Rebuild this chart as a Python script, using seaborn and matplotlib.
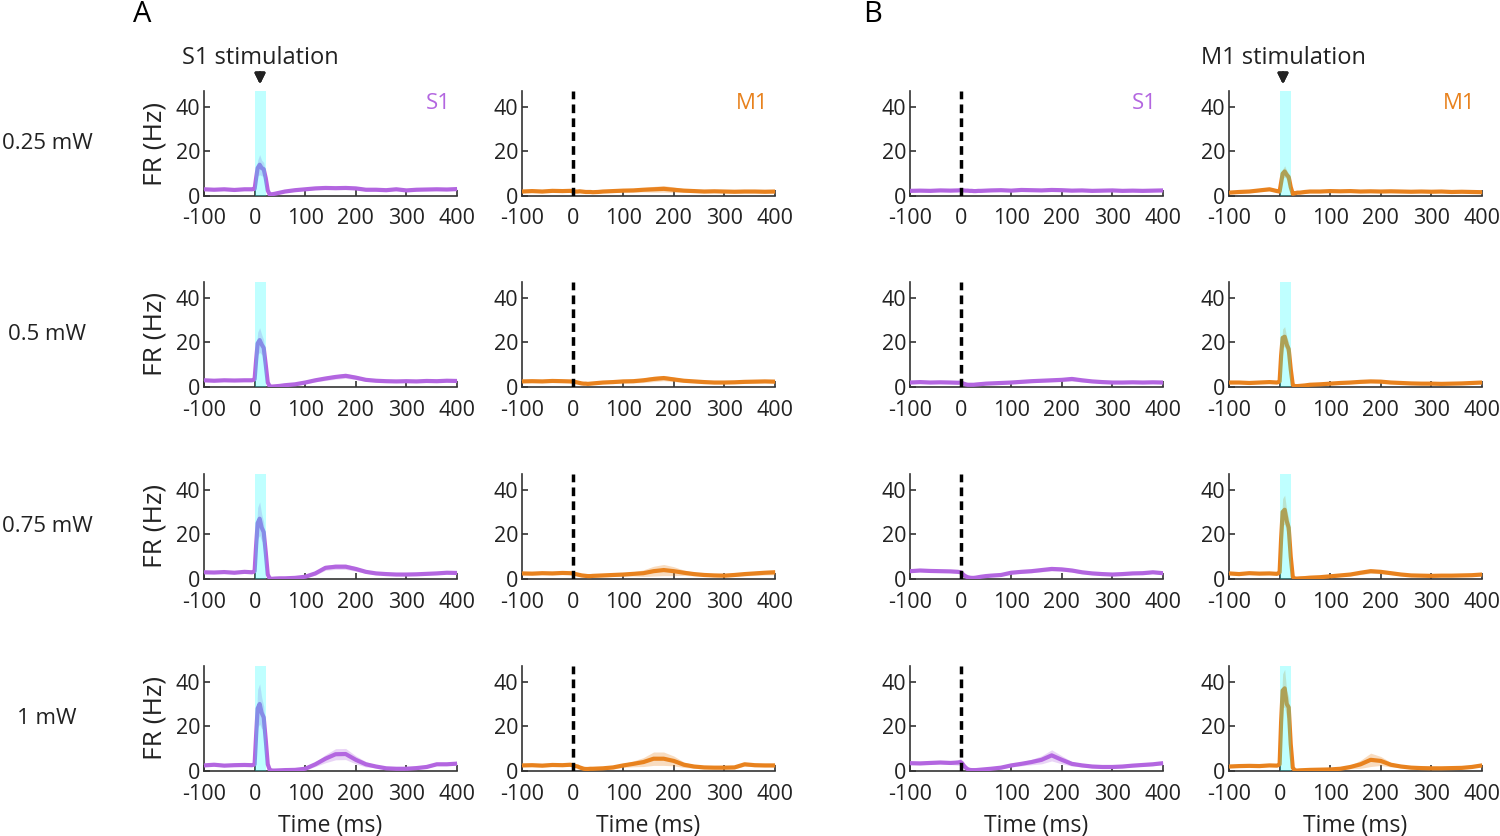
import matplotlib.pyplot as plt
import numpy as np
import pandas as pd
import seaborn as sns

# time bins (ms) shared by every trace
time_ms = [-100, -80, -60, -40, -20, -5, 0, 3, 6, 10, 14, 18, 22, 26, 30, 35, 40, 50,
           60, 80, 100, 120, 140, 160, 180, 200, 220, 240, 260, 280, 300, 320, 340, 360, 380, 400]

powers = ["0.25 mW", "0.5 mW", "0.75 mW", "1 mW"]

# ---- mean firing rate (Hz) ----
# S1 stimulation, S1 recording
s1_s1stim_025 = [3.0, 2.8, 3.0, 2.7, 3.0, 3.0, 3.2, 8.0, 12.5, 14.0, 12.5, 12.0, 8.0, 2.5, 0.6, 0.8, 1.0, 1.5,
                 2.0, 2.6, 3.0, 3.4, 3.6, 3.5, 3.6, 3.4, 2.8, 2.8, 2.6, 3.0, 2.5, 2.8, 2.9, 3.0, 2.9, 3.1]
s1_s1stim_05 = [3.0, 2.8, 3.0, 2.9, 3.0, 3.0, 3.5, 12.0, 19.5, 21.0, 19.0, 17.5, 10.0, 2.0, 0.3, 0.2, 0.3, 0.5,
                0.8, 1.2, 2.0, 3.0, 3.8, 4.5, 5.0, 4.2, 3.2, 2.8, 2.6, 2.5, 2.6, 2.5, 2.7, 2.6, 2.8, 2.7]
s1_s1stim_075 = [3.0, 2.9, 3.1, 2.8, 3.2, 3.0, 3.5, 15.0, 25.0, 27.0, 23.0, 21.0, 12.0, 2.0, 0.2, 0.1, 0.2, 0.3,
                 0.3, 0.5, 1.0, 2.5, 5.0, 5.5, 5.5, 4.5, 3.2, 2.5, 2.2, 2.0, 2.0, 2.1, 2.3, 2.5, 2.8, 2.7]
s1_s1stim_1 = [2.5, 2.8, 2.4, 2.6, 2.7, 2.6, 3.0, 16.0, 28.0, 30.0, 26.0, 24.0, 14.0, 3.0, 0.5, 0.2, 0.2, 0.3,
               0.4, 0.5, 1.0, 3.0, 5.5, 7.5, 7.6, 5.0, 3.0, 2.0, 1.2, 1.0, 1.0, 1.3, 1.8, 3.0, 3.0, 3.3]
# S1 stimulation, M1 recording
m1_s1stim_025 = [2.0, 2.2, 2.0, 2.3, 2.2, 2.3, 2.1, 2.0, 2.0, 2.0, 2.1, 2.0, 1.9, 1.8, 1.8, 1.8, 1.7, 1.8,
                 2.0, 2.2, 2.4, 2.5, 2.8, 3.0, 3.2, 2.8, 2.4, 2.2, 2.0, 2.1, 2.0, 1.9, 2.0, 2.0, 1.9, 2.0]
m1_s1stim_05 = [2.5, 2.6, 2.5, 2.7, 2.6, 2.5, 2.4, 2.3, 2.2, 2.0, 1.8, 1.6, 1.5, 1.5, 1.4, 1.5, 1.6, 1.8,
                2.0, 2.2, 2.5, 2.6, 3.0, 3.6, 4.0, 3.4, 2.8, 2.5, 2.2, 2.0, 2.0, 2.1, 2.3, 2.4, 2.5, 2.4]
m1_s1stim_075 = [2.5, 2.4, 2.6, 2.5, 2.7, 2.6, 2.5, 2.3, 2.2, 2.0, 1.8, 1.6, 1.5, 1.4, 1.3, 1.3, 1.4, 1.5,
                 1.6, 1.8, 2.0, 2.3, 2.6, 3.5, 4.0, 3.5, 2.8, 2.2, 1.8, 1.6, 1.5, 1.8, 2.2, 2.5, 2.8, 3.0]
m1_s1stim_1 = [2.5, 2.6, 2.4, 2.7, 2.6, 2.8, 2.6, 2.4, 2.2, 2.0, 1.6, 1.3, 1.0, 0.9, 0.9, 1.0, 1.0, 1.1,
               1.2, 1.6, 2.5, 3.2, 4.0, 5.5, 5.5, 4.5, 2.8, 2.0, 1.6, 1.5, 1.5, 1.6, 3.0, 2.6, 2.5, 2.5]
# M1 stimulation, S1 recording
s1_m1stim_025 = [2.3, 2.4, 2.3, 2.5, 2.4, 2.5, 2.6, 2.5, 2.5, 2.4, 2.4, 2.3, 2.3, 2.2, 2.2, 2.3, 2.3, 2.4,
                 2.5, 2.6, 2.4, 2.7, 2.6, 2.5, 2.7, 2.6, 2.4, 2.5, 2.3, 2.4, 2.5, 2.3, 2.4, 2.3, 2.4, 2.5]
s1_m1stim_05 = [2.0, 2.2, 2.0, 2.1, 2.0, 1.9, 2.0, 1.8, 1.5, 1.2, 1.0, 1.0, 1.0, 1.0, 1.1, 1.2, 1.3, 1.5,
                1.6, 1.8, 2.0, 2.3, 2.6, 2.8, 3.0, 3.2, 3.6, 3.0, 2.5, 2.2, 2.0, 2.0, 2.1, 2.0, 2.1, 2.0]
s1_m1stim_075 = [3.5, 3.8, 3.6, 3.5, 3.4, 3.2, 3.0, 2.5, 1.8, 1.2, 0.8, 0.6, 0.5, 0.5, 0.6, 0.8, 1.0, 1.3,
                 1.5, 1.8, 2.8, 3.2, 3.5, 4.0, 4.5, 4.3, 3.8, 3.0, 2.5, 2.2, 2.0, 2.2, 2.5, 2.6, 3.0, 2.6]
s1_m1stim_1 = [3.5, 3.4, 3.6, 3.8, 3.6, 3.8, 4.0, 3.5, 2.5, 1.5, 0.8, 0.5, 0.4, 0.4, 0.4, 0.5, 0.6, 0.8,
               1.0, 1.5, 2.5, 3.2, 4.0, 5.0, 7.0, 5.0, 3.2, 2.5, 2.0, 1.8, 1.8, 2.0, 2.4, 2.7, 3.0, 3.5]
# M1 stimulation, M1 recording
m1_m1stim_025 = [1.5, 1.8, 2.0, 2.5, 3.0, 2.2, 2.0, 6.0, 10.0, 11.0, 9.5, 8.5, 4.0, 1.0, 1.2, 1.5, 1.5, 1.8,
                 2.0, 2.0, 2.2, 2.1, 2.2, 2.0, 2.1, 2.0, 2.1, 2.0, 1.9, 2.0, 1.9, 2.0, 1.8, 1.9, 1.8, 1.7]
m1_m1stim_05 = [2.0, 2.0, 1.8, 2.0, 2.2, 2.0, 2.5, 14.0, 22.0, 22.5, 19.0, 17.0, 8.0, 1.0, 0.4, 0.4, 0.5, 0.7,
                1.0, 1.2, 1.5, 1.8, 2.0, 2.3, 2.5, 2.4, 2.0, 1.8, 1.6, 1.5, 1.5, 1.4, 1.5, 1.6, 1.8, 2.0]
m1_m1stim_075 = [2.5, 2.2, 2.6, 2.4, 2.5, 2.3, 3.0, 18.0, 30.0, 31.0, 26.0, 23.0, 10.0, 1.0, 0.2, 0.2, 0.3, 0.4,
                 0.6, 0.8, 1.2, 1.6, 2.0, 2.8, 3.5, 3.2, 2.6, 2.0, 1.6, 1.5, 1.4, 1.5, 1.5, 1.6, 1.7, 2.0]
m1_m1stim_1 = [2.0, 2.2, 2.3, 2.2, 2.5, 2.4, 3.0, 22.0, 36.0, 37.0, 30.0, 28.5, 12.0, 1.5, 0.3, 0.2, 0.3, 0.4,
               0.5, 0.6, 0.7, 1.0, 1.8, 3.0, 5.0, 4.5, 2.8, 2.0, 1.5, 1.3, 1.2, 1.2, 1.3, 1.4, 1.8, 2.5]

# ---- SEM (Hz) ----
sem_s1_s1stim_025 = [0.4, 0.4, 0.4, 0.4, 0.4, 0.4, 0.6, 2.0, 3.5, 4.5, 3.5, 3.0, 2.0, 0.8, 0.4, 0.4, 0.4, 0.4,
                     0.4, 0.4, 0.5, 0.5, 0.6, 0.6, 0.6, 0.5, 0.5, 0.4, 0.4, 0.4, 0.4, 0.4, 0.4, 0.4, 0.4, 0.4]
sem_s1_s1stim_05 = [0.4, 0.4, 0.4, 0.4, 0.4, 0.4, 0.8, 3.0, 5.0, 5.5, 4.5, 3.5, 2.5, 0.8, 0.3, 0.3, 0.3, 0.3,
                    0.4, 0.5, 0.6, 0.7, 0.9, 1.0, 1.1, 0.9, 0.7, 0.5, 0.4, 0.4, 0.4, 0.4, 0.4, 0.4, 0.4, 0.4]
sem_s1_s1stim_075 = [0.4, 0.4, 0.4, 0.4, 0.4, 0.4, 0.8, 4.0, 7.0, 7.5, 6.0, 4.5, 3.0, 0.8, 0.3, 0.2, 0.2, 0.2,
                     0.3, 0.3, 0.5, 0.8, 1.1, 1.2, 1.2, 1.0, 0.7, 0.5, 0.4, 0.4, 0.4, 0.4, 0.4, 0.4, 0.4, 0.4]
sem_s1_s1stim_1 = [0.4, 0.4, 0.4, 0.4, 0.4, 0.4, 0.9, 5.0, 8.5, 9.0, 7.0, 5.0, 3.5, 1.0, 0.3, 0.2, 0.2, 0.2,
                   0.3, 0.3, 0.6, 1.0, 1.8, 2.5, 2.5, 1.8, 1.2, 0.6, 0.4, 0.4, 0.4, 0.4, 0.5, 0.5, 0.5, 0.5]
sem_m1_s1stim_025 = [0.5, 0.5, 0.5, 0.5, 0.5, 0.5, 0.5, 0.5, 0.5, 0.5, 0.5, 0.5, 0.5, 0.5, 0.5, 0.5, 0.5, 0.5,
                     0.5, 0.6, 0.7, 0.8, 1.0, 1.3, 1.5, 1.2, 0.8, 0.6, 0.5, 0.5, 0.5, 0.5, 0.5, 0.5, 0.5, 0.5]
sem_m1_s1stim_05 = [0.5, 0.5, 0.5, 0.5, 0.5, 0.5, 0.5, 0.5, 0.5, 0.5, 0.5, 0.5, 0.5, 0.5, 0.5, 0.5, 0.5, 0.5,
                    0.5, 0.6, 0.7, 0.8, 1.0, 1.2, 1.2, 1.0, 0.8, 0.6, 0.5, 0.5, 0.5, 0.5, 0.5, 0.6, 0.6, 0.6]
sem_m1_s1stim_075 = [0.6, 0.6, 0.6, 0.6, 0.6, 0.6, 0.6, 0.6, 0.6, 0.6, 0.6, 0.6, 0.6, 0.6, 0.6, 0.6, 0.6, 0.6,
                     0.6, 0.7, 0.8, 1.0, 1.5, 2.2, 2.5, 2.0, 1.2, 0.8, 0.6, 0.6, 0.6, 0.7, 0.8, 0.9, 1.0, 1.1]
sem_m1_s1stim_1 = [0.6, 0.6, 0.6, 0.6, 0.6, 0.6, 0.6, 0.6, 0.6, 0.6, 0.6, 0.6, 0.6, 0.6, 0.6, 0.6, 0.6, 0.6,
                   0.6, 0.7, 0.9, 1.3, 2.0, 3.0, 3.0, 2.2, 1.2, 0.8, 0.6, 0.6, 0.6, 0.6, 0.8, 0.7, 0.7, 0.7]
sem_s1_m1stim_025 = [0.4, 0.4, 0.4, 0.4, 0.4, 0.4, 0.4, 0.4, 0.4, 0.4, 0.4, 0.4, 0.4, 0.4, 0.4, 0.4, 0.4, 0.4,
                     0.4, 0.4, 0.4, 0.4, 0.5, 0.5, 0.5, 0.5, 0.5, 0.4, 0.4, 0.4, 0.4, 0.4, 0.4, 0.4, 0.4, 0.4]
sem_s1_m1stim_05 = [0.4, 0.4, 0.4, 0.4, 0.4, 0.4, 0.4, 0.4, 0.4, 0.4, 0.4, 0.4, 0.4, 0.4, 0.4, 0.4, 0.4, 0.4,
                    0.4, 0.4, 0.5, 0.5, 0.6, 0.6, 0.7, 0.8, 1.0, 0.8, 0.5, 0.4, 0.4, 0.4, 0.4, 0.4, 0.4, 0.4]
sem_s1_m1stim_075 = [0.5, 0.5, 0.5, 0.5, 0.5, 0.5, 0.6, 0.6, 0.5, 0.4, 0.4, 0.4, 0.4, 0.4, 0.4, 0.4, 0.4, 0.4,
                     0.4, 0.4, 0.5, 0.6, 0.7, 0.8, 0.9, 0.8, 0.7, 0.6, 0.5, 0.5, 0.5, 0.5, 0.5, 0.5, 0.5, 0.5]
sem_s1_m1stim_1 = [0.6, 0.6, 0.6, 0.6, 0.7, 1.2, 1.8, 1.2, 0.8, 0.5, 0.4, 0.4, 0.4, 0.4, 0.4, 0.4, 0.4, 0.4,
                   0.4, 0.5, 0.7, 0.9, 1.2, 1.8, 2.5, 1.8, 1.0, 0.7, 0.6, 0.6, 0.6, 0.6, 0.6, 0.6, 0.6, 0.6]
sem_m1_m1stim_025 = [0.4, 0.4, 0.4, 0.5, 0.7, 0.5, 0.5, 1.5, 2.0, 2.5, 2.0, 1.5, 1.0, 0.4, 0.4, 0.4, 0.4, 0.4,
                     0.4, 0.4, 0.4, 0.4, 0.4, 0.4, 0.4, 0.4, 0.4, 0.4, 0.4, 0.4, 0.4, 0.4, 0.4, 0.4, 0.4, 0.4]
sem_m1_m1stim_05 = [0.4, 0.4, 0.4, 0.4, 0.4, 0.4, 0.6, 2.5, 4.0, 4.5, 3.5, 3.0, 1.5, 0.4, 0.3, 0.3, 0.3, 0.3,
                    0.3, 0.3, 0.4, 0.4, 0.5, 0.6, 0.6, 0.5, 0.4, 0.4, 0.4, 0.4, 0.4, 0.4, 0.4, 0.4, 0.4, 0.4]
sem_m1_m1stim_075 = [0.4, 0.4, 0.4, 0.4, 0.4, 0.4, 0.8, 3.5, 6.0, 6.5, 5.0, 4.0, 2.0, 0.5, 0.2, 0.2, 0.2, 0.2,
                     0.3, 0.3, 0.4, 0.5, 0.6, 0.8, 1.0, 0.8, 0.6, 0.5, 0.4, 0.4, 0.4, 0.4, 0.4, 0.4, 0.4, 0.4]
sem_m1_m1stim_1 = [0.4, 0.4, 0.4, 0.4, 0.4, 0.4, 1.0, 4.5, 7.5, 8.5, 6.0, 4.5, 2.5, 0.6, 0.2, 0.2, 0.2, 0.2,
                   0.3, 0.3, 0.4, 0.5, 0.8, 1.8, 3.0, 2.0, 1.0, 0.5, 0.4, 0.4, 0.4, 0.4, 0.4, 0.4, 0.4, 0.6]

# rows = laser power, columns = (S1 stim: S1, M1) (M1 stim: S1, M1)
panel_means = [
    [s1_s1stim_025, m1_s1stim_025, s1_m1stim_025, m1_m1stim_025],
    [s1_s1stim_05, m1_s1stim_05, s1_m1stim_05, m1_m1stim_05],
    [s1_s1stim_075, m1_s1stim_075, s1_m1stim_075, m1_m1stim_075],
    [s1_s1stim_1, m1_s1stim_1, s1_m1stim_1, m1_m1stim_1],
]
panel_sems = [
    [sem_s1_s1stim_025, sem_m1_s1stim_025, sem_s1_m1stim_025, sem_m1_m1stim_025],
    [sem_s1_s1stim_05, sem_m1_s1stim_05, sem_s1_m1stim_05, sem_m1_m1stim_05],
    [sem_s1_s1stim_075, sem_m1_s1stim_075, sem_s1_m1stim_075, sem_m1_m1stim_075],
    [sem_s1_s1stim_1, sem_m1_s1stim_1, sem_s1_m1stim_1, sem_m1_m1stim_1],
]
col_area = ["S1", "M1", "S1", "M1"]
col_stimulated = [True, False, False, True]
laser_window = (0, 23)

area_colors = {"S1": "#b366e0", "M1": "#e8821e"}
text_color = "#222222"

sns.set_theme(style="ticks")
plt.rcParams["font.family"] = ["Open Sans", "DejaVu Sans"]
plt.rcParams["axes.linewidth"] = 1.2
plt.rcParams["axes.edgecolor"] = "#333333"
plt.rcParams["axes.unicode_minus"] = False

W, H = 1500, 836
fig = plt.figure(figsize=(15, 8.36), dpi=100)

lefts_px = [204, 522, 910, 1229]
bottoms_px = [196, 387, 579, 771]
ax_w, ax_h = 253, 105

t = np.array(time_ms)

for r in range(4):
    for c in range(4):
        ax = fig.add_axes([lefts_px[c] / W, 1 - bottoms_px[r] / H, ax_w / W, ax_h / H])
        mean = np.array(panel_means[r][c])
        sem = np.array(panel_sems[r][c])
        color = area_colors[col_area[c]]

        ax.fill_between(t, mean - sem, mean + sem, color=color, alpha=0.28, lw=0)
        df = pd.DataFrame({"time": t, "fr": mean})
        sns.lineplot(data=df, x="time", y="fr", ax=ax, color=color, lw=3, legend=False, zorder=3)

        if col_stimulated[c]:
            ax.axvspan(laser_window[0], laser_window[1], color="#00ffff", alpha=0.25, lw=0, zorder=5)
        else:
            ax.axvline(0, color="black", lw=2.5, ls=(0, (2.5, 1.5)), zorder=5)

        ax.set_xlim(-100, 400)
        ax.set_ylim(0, 47)
        ax.set_xticks([-100, 0, 100, 200, 300, 400])
        ax.set_yticks([0, 20, 40])
        ax.tick_params(direction="in", length=4, width=1.2, labelsize=15.5, pad=2.5,
                       colors="#333333", labelcolor=text_color)
        ax.tick_params(axis="x", pad=9)
        sns.despine(ax=ax)

        if c == 0:
            ax.set_ylabel("FR (Hz)", fontsize=19, color=text_color)
            ax.yaxis.label.set_va("center")
            ax.yaxis.set_label_coords(-49 / ax_w, 0.5)
        else:
            ax.set_ylabel("")
        if r == 3:
            ax.set_xlabel("Time (ms)", fontsize=16.5, color=text_color)
            ax.xaxis.label.set_va("center")
            ax.xaxis.set_label_coords(0.5, -55 / ax_h)
        else:
            ax.set_xlabel("")

        if r == 0:
            ax.text(0.975, 0.88, col_area[c], transform=ax.transAxes, ha="right", va="center",
                    fontsize=16, color=color)

    fig.text(47 / W, 1 - (bottoms_px[r] - ax_h / 2) / H, powers[r], ha="center", va="center",
             fontsize=16, color=text_color)

# stimulation headers with arrows
for label, x_px in [("S1 stimulation", 260), ("M1 stimulation", 1283)]:
    fig.text(x_px / W, 1 - 58 / H, label, ha="center", va="center", fontsize=17, color=text_color)
    fig.add_artist(plt.annotate("", xy=(x_px / W, 1 - 87 / H), xytext=(x_px / W, 1 - 70 / H),
                                xycoords="figure fraction", textcoords="figure fraction",
                                arrowprops=dict(arrowstyle="-|>", color=text_color, lw=2,
                                                mutation_scale=15)))

fig.text(142 / W, 1 - 15 / H, "A", ha="center", va="center", fontsize=21, color="black")
fig.text(873 / W, 1 - 15 / H, "B", ha="center", va="center", fontsize=21, color="black")

fig.savefig("out.png", dpi=100)
